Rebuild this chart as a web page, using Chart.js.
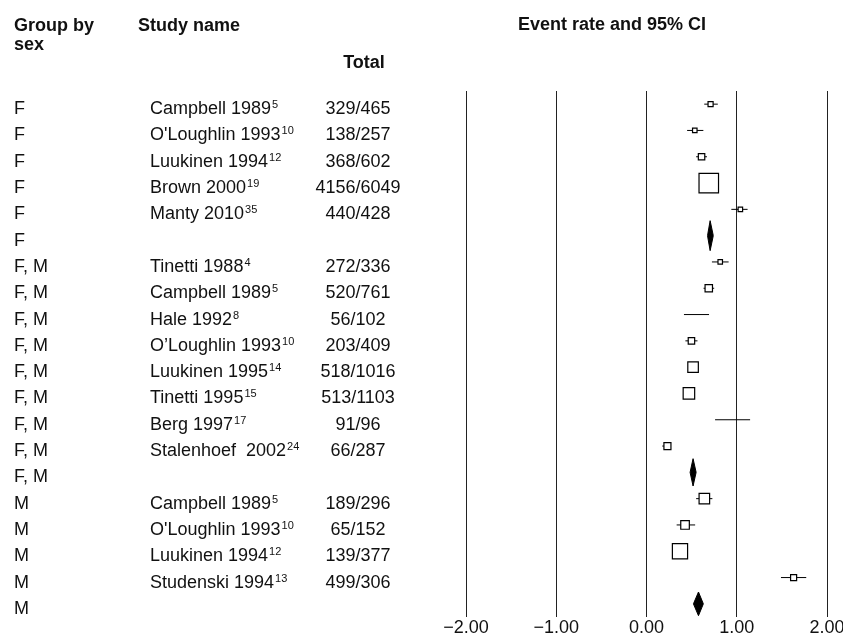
<!DOCTYPE html>
<html lang="en">
<head>
<meta charset="UTF-8">
<title>Event rate by sex</title>
<style>
  body { margin: 0; background: #fff; }
  .wrap { width: 843px; height: 643px; }
</style>
</head>
<body>
<div class="wrap"><canvas id="myCanvas" width="843" height="643"></canvas></div>
<script src="https://cdn.jsdelivr.net/npm/chart.js@4.4.1/dist/chart.umd.min.js"></script>
<script>
// one entry per row, top to bottom (summary rows have no study)
const groups  = ['F','F','F','F','F','F',
                 'F, M','F, M','F, M','F, M','F, M','F, M','F, M','F, M','F, M',
                 'M','M','M','M','M'];
const studies = ['Campbell 1989','O\'Loughlin 1993','Luukinen 1994','Brown 2000','Manty 2010','',
                 'Tinetti 1988','Campbell 1989','Hale 1992','O\u2019Loughlin 1993','Luukinen 1995',
                 'Tinetti 1995','Berg 1997','Stalenhoef  2002','',
                 'Campbell 1989','O\'Loughlin 1993','Luukinen 1994','Studenski 1994',''];
const refs    = ['5','10','12','19','35','','4','5','8','10','14','15','17','24','','5','10','12','13',''];
const totals  = ['329/465','138/257','368/602','4156/6049','440/428','',
                 '272/336','520/761','56/102','203/409','518/1016','513/1103','91/96','66/287','',
                 '189/296','65/152','139/377','499/306',''];

// event rate with 95% CI per study row
const rate = [0.71, 0.535, 0.61, 0.69, 1.04, null,
              0.817, 0.69, 0.55, 0.498, 0.516, 0.47, 0.95, 0.232, null,
              0.641, 0.427, 0.371, 1.63, null];
const lo   = [0.64, 0.45, 0.55, 0.675, 0.94, null,
              0.725, 0.632, 0.415, 0.431, 0.49, 0.445, 0.76, 0.175, null,
              0.55, 0.334, 0.33, 1.49, null];
const hi   = [0.79, 0.63, 0.67, 0.70, 1.12, null,
              0.91, 0.75, 0.693, 0.565, 0.54, 0.495, 1.148, 0.26, null,
              0.73, 0.539, 0.41, 1.77, null];
// relative weight (largest study = 100)
const weight = [26, 23, 33, 100, 23, null,
                23, 38, 0, 33, 54, 59, 0, 36, null,
                54, 44, 78, 31, null];

// pooled estimates
const sumRow  = [5, 14, 19];
const sumRate = [0.705, 0.516, 0.576];
const sumLo   = [0.676, 0.483, 0.52];
const sumHi   = [0.74, 0.55, 0.63];

const xTicks = [-2, -1, 0, 1, 2];

const FONT = '"Liberation Sans", Arial, sans-serif';
const MAX_SIDE = 19.5;              // px side of the biggest box
const diamondHalf = [0.57, 0.52, 0.45]; // half height in rows

window.onload = () => {
    Chart.defaults.font.family = FONT;

    // boxes
    const boxData = [], boxRadius = [];
    rate.forEach((r, i) => {
        if (r === null) return;
        boxData.push({x: r, y: i});
        boxRadius.push(weight[i] / 100 * MAX_SIDE / 1.4142);
    });

    // CI whiskers, broken by null points
    const ciData = [];
    rate.forEach((r, i) => {
        if (r === null) return;
        ciData.push({x: lo[i], y: i}, {x: hi[i], y: i}, {x: hi[i], y: null});
    });

    // diamonds: top half + bottom half filled between
    const diamondSets = [];
    sumRow.forEach((row, k) => {
        const h = diamondHalf[k];
        diamondSets.push({
            type: 'line',
            data: [{x: sumLo[k], y: row}, {x: sumRate[k], y: row - h}, {x: sumHi[k], y: row}],
            borderColor: '#000', borderWidth: 1, pointRadius: 0, tension: 0, fill: false, order: 1
        }, {
            type: 'line',
            data: [{x: sumLo[k], y: row}, {x: sumRate[k], y: row + h}, {x: sumHi[k], y: row}],
            borderColor: '#000', borderWidth: 1, pointRadius: 0, tension: 0,
            fill: '-1', backgroundColor: '#000', order: 1
        });
    });

    const textColumns = {
        id: 'textColumns',
        afterDraw(chart) {
            const ctx = chart.ctx;
            const y = chart.scales.y;
            ctx.save();
            ctx.fillStyle = '#111';
            ctx.textBaseline = 'alphabetic';

            // headers
            ctx.font = 'bold 18px ' + FONT;
            ctx.textAlign = 'left';
            ctx.fillText('Group by', 14, 31);
            ctx.fillText('sex', 14, 50);
            ctx.fillText('Study name', 138, 31);
            ctx.textAlign = 'center';
            ctx.fillText('Total', 364, 68);
            ctx.fillText('Event rate and 95% CI', 612, 30);

            groups.forEach((g, i) => {
                const base = y.getPixelForValue(i) + 10;
                ctx.font = '18px ' + FONT;
                ctx.textAlign = 'left';
                ctx.fillText(g, 14, base);
                if (studies[i]) {
                    ctx.fillText(studies[i], 150, base);
                    const w = ctx.measureText(studies[i]).width;
                    ctx.font = '11px ' + FONT;
                    ctx.fillText(refs[i], 150 + w + 1, base - 6);
                    ctx.font = '18px ' + FONT;
                }
                if (totals[i]) {
                    ctx.textAlign = 'center';
                    ctx.fillText(totals[i], 358, base);
                }
            });
            ctx.restore();
        }
    };

    new Chart(document.getElementById('myCanvas'), {
        type: 'scatter',
        data: {
            datasets: [{
                data: boxData,
                pointStyle: 'rect',
                pointRadius: boxRadius,
                pointBackgroundColor: '#fff',
                pointBorderColor: '#000',
                pointBorderWidth: 1.2,
                order: 0
            }, {
                type: 'line',
                data: ciData,
                borderColor: '#000',
                borderWidth: 1,
                pointRadius: 0,
                spanGaps: false,
                fill: false,
                order: 2
            }, ...diamondSets]
        },
        options: {
            responsive: false,
            animation: false,
            events: [],
            layout: { padding: { left: 466, right: 16, top: 91, bottom: 0 } },
            plugins: { legend: { display: false }, tooltip: { enabled: false } },
            scales: {
                x: {
                    type: 'linear',
                    min: -2, max: 2,
                    afterBuildTicks: s => { s.ticks = xTicks.map(v => ({value: v})); },
                    afterFit: s => { s.height = 26; s.paddingLeft = 0; s.paddingRight = 0; },
                    grid: { color: '#222', lineWidth: 1, drawTicks: false },
                    border: { display: false },
                    ticks: {
                        padding: 0,
                        color: '#111',
                        font: { size: 18 },
                        maxRotation: 0,
                        callback: v => (v < 0 ? '\u2212' : '') + Math.abs(v).toFixed(2)
                    }
                },
                y: {
                    type: 'linear',
                    reverse: true,
                    min: -0.5, max: 19.5,
                    display: false
                }
            }
        },
        plugins: [textColumns]
    });
};
</script>
</body>
</html>
